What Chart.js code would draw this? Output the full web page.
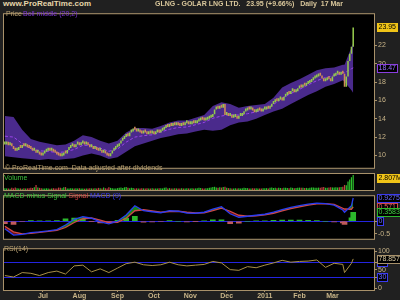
<!DOCTYPE html>
<html>
<head>
<meta charset="utf-8">
<script src="https://cdn.jsdelivr.net/npm/chart.js@4"></script>
<style>
  html, body { margin: 0; padding: 0; background: #202020; }
  #wrap { position: relative; width: 400px; height: 300px; overflow: hidden; }
  canvas { position: absolute; left: 0; }
  .t { position: absolute; white-space: pre; font-family: "Liberation Sans", Arial, sans-serif; font-size: 7px; line-height: 8px; }
</style>
</head>
<body>
<div id="wrap">
  <canvas id="price" width="400" height="164" style="top:9px"></canvas>
  <canvas id="volume" width="400" height="18" style="top:173px"></canvas>
  <canvas id="macd" width="400" height="53" style="top:191px"></canvas>
  <canvas id="rsi" width="400" height="56" style="top:244px"></canvas>

  <div class="t" style="left:3px;top:0;font-weight:bold;font-size:8px;color:#e6d6aa">www.ProRealTime.com</div>
  <div class="t" style="left:155px;top:0;font-weight:bold;color:#d8c69a">GLNG - GOLAR LNG LTD.   23.95 (+9.66%)   Daily  17 Mar</div>
  <div class="t" style="left:6px;top:10px;color:#b8a070">Price</div>
  <div class="t" style="left:23px;top:10px;color:#7a34d4">Boll middle (20,2)</div>
  <div class="t" style="left:5px;top:164px;color:#b8a070">© ProRealTime.com  Data adjusted after dividends</div>
  <div class="t" style="left:4px;top:174px;color:#3cc03c">Volume</div>
  <div class="t" style="left:4px;top:192px"><span style="color:#3cc03c">MACD minus Signal</span> <span style="color:#d04848">Signal</span> <span style="color:#3a3af0">MACD (9)</span></div>
  <div class="t" style="left:4px;top:245px;color:#b8a070">RSI(14)</div>
</div>
<script>
// daily closes, 1 Jun 2010 .. 17 Mar 2011 (index = trading day)
const closes = [
  11.2, 11.5, 11.1, 11.3, 11.0, 10.7, 10.5, 10.6, 10.9, 10.8,
  11.1, 11.0, 11.2, 10.9, 10.8, 10.7, 10.5, 10.6, 10.3, 10.4,
  10.1, 10.0, 10.2, 10.4, 10.5, 10.7, 10.5, 10.6, 10.4, 10.3,
  10.1, 10.0, 9.9, 10.0, 10.3, 10.2, 10.6, 10.8, 11.0, 11.1,
  10.9, 11.2, 11.3, 11.1, 11.3, 11.5, 11.2, 11.4, 11.1, 10.9,
  10.9, 10.7, 10.8, 10.6, 10.5, 10.6, 10.3, 10.4, 10.2, 10.0,
  9.9, 10.2, 10.5, 10.7, 10.9, 11.0, 11.3, 11.6, 11.8, 12.0,
  12.2, 12.1, 12.5, 12.6, 12.9, 12.8, 12.6, 12.7, 12.5, 12.4,
  12.6, 12.5, 12.3, 12.6, 12.4, 12.5, 12.3, 12.5, 12.6, 12.5,
  12.7, 12.8, 13.0, 13.2, 13.1, 13.3, 13.2, 13.4, 13.3, 13.5,
  13.3, 13.2, 13.4, 13.3, 13.5, 13.6, 13.4, 13.4, 13.6, 13.5,
  13.5, 13.7, 13.8, 14.0, 13.9, 13.8, 13.9, 14.0, 14.1, 14.2,
  14.5, 15.0, 15.2, 15.1, 15.3, 15.2, 15.6, 14.4, 14.5, 14.3,
  14.3, 14.1, 14.2, 14.2, 14.0, 14.3, 14.3, 14.5, 14.8, 14.9,
  15.1, 15.0, 15.0, 14.9, 14.7, 14.8, 15.0, 14.9, 14.8, 15.0,
  15.0, 15.2, 15.1, 15.3, 15.6, 15.8, 16.0, 15.9, 16.1, 16.2,
  16.0, 16.4, 16.6, 16.8, 16.7, 17.0, 17.2, 16.9, 17.0, 17.3,
  17.5, 17.4, 17.7, 17.6, 17.8, 17.9, 18.0, 18.2, 18.4, 18.5,
  18.6, 18.8, 18.7, 18.4, 18.1, 18.2, 18.4, 18.3, 18.1, 18.6,
  18.7, 18.9, 19.0, 18.8, 19.1, 18.9, 17.5, 18.6, 20.3, 21.1,
  21.84, 23.95
];
// daily volume, millions
const volumes = [
  0.35, 0.30, 0.28, 0.25, 0.40, 0.30, 0.45, 0.35, 0.28, 0.30,
  0.25, 0.32, 0.28, 0.30, 0.35, 0.40, 0.38, 0.50, 0.95, 0.45,
  0.40, 0.35, 0.30, 0.28, 0.32, 0.30, 0.25, 0.30, 0.35, 0.28,
  0.30, 0.45, 0.40, 0.35, 0.50, 0.55, 0.30, 0.28, 0.35, 0.30,
  0.28, 0.32, 0.30, 0.35, 0.28, 0.30, 0.25, 0.30, 0.28, 0.32,
  0.30, 0.28, 0.35, 0.30, 0.40, 0.32, 0.30, 0.45, 0.35, 0.30,
  0.50, 0.40, 0.35, 0.30, 0.28, 0.35, 0.40, 0.45, 0.38, 0.50,
  0.55, 0.40, 0.35, 0.42, 0.38, 0.30, 0.32, 0.28, 0.30, 0.35,
  0.30, 0.28, 0.32, 0.30, 0.28, 0.35, 0.30, 0.28, 0.30, 0.32,
  0.35, 0.30, 0.40, 0.45, 0.30, 0.35, 0.28, 0.30, 0.32, 0.30,
  0.28, 0.30, 0.35, 0.30, 0.28, 0.32, 0.30, 0.28, 0.35, 0.30,
  0.30, 0.35, 0.40, 0.38, 0.30, 0.28, 0.32, 0.35, 0.40, 0.45,
  0.55, 0.60, 0.45, 0.40, 0.50, 0.45, 0.55, 0.60, 0.40, 0.35,
  0.32, 0.30, 0.28, 0.35, 0.30, 0.32, 0.28, 0.35, 0.40, 0.38,
  0.35, 0.30, 0.28, 0.32, 0.30, 0.35, 0.30, 0.28, 0.30, 0.35,
  0.32, 0.35, 0.30, 0.40, 0.45, 0.38, 0.42, 0.35, 0.40, 0.38,
  0.35, 0.40, 0.42, 0.38, 0.35, 0.45, 0.40, 0.35, 0.38, 0.42,
  0.45, 0.40, 0.42, 0.38, 0.40, 0.35, 0.42, 0.45, 0.48, 0.40,
  0.42, 0.45, 0.40, 0.50, 0.55, 0.42, 0.40, 0.45, 0.50, 0.48,
  0.45, 0.50, 0.48, 0.52, 0.55, 0.60, 0.95, 0.90, 1.60, 1.95,
  2.40, 2.807
];

// indicator readings, taken about once a week
const sampleDays = [0, 5, 10, 15, 20, 25, 30, 35, 40, 45, 50, 55, 60, 65, 70, 75, 80, 85, 90, 95,
  100, 105, 110, 115, 120, 125, 130, 135, 140, 145, 150, 155, 160, 165, 170, 175, 180, 185, 190, 195, 196, 200, 201];
const bollUpper = [14.3, 14.2, 12.8, 11.8, 11.5, 11.3, 11.1, 11.2, 11.6, 12.2, 12.0, 11.6, 11.3, 11.6, 12.5, 13.0, 13.0, 12.9, 13.2, 13.6,
  13.8, 13.8, 14.1, 14.4, 15.4, 15.8, 15.6, 15.2, 15.4, 15.5, 15.6, 16.3, 17.4, 17.9, 18.3, 18.8, 19.3, 19.5, 19.6, 19.9, 19.9, 21.8, 22.3];
const bollLower = [9.9, 9.8, 9.7, 9.6, 9.5, 9.6, 9.5, 9.6, 9.7, 10.0, 10.2, 10.0, 9.6, 9.8, 10.4, 11.0, 11.3, 11.6, 11.9, 12.1,
  12.3, 12.4, 12.6, 12.8, 12.7, 12.8, 13.3, 13.6, 13.7, 14.0, 14.4, 14.8, 15.1, 15.6, 16.1, 16.6, 17.0, 17.5, 17.8, 18.2, 18.0, 17.1, 16.8];
const bollMiddle = [12.1, 12.0, 11.3, 10.7, 10.5, 10.45, 10.3, 10.4, 10.65, 11.1, 11.1, 10.8, 10.45, 10.7, 11.45, 12.0, 12.15, 12.25, 12.55, 12.85,
  13.05, 13.1, 13.35, 13.6, 14.05, 14.3, 14.45, 14.4, 14.55, 14.75, 15.0, 15.55, 16.25, 16.75, 17.2, 17.7, 18.15, 18.5, 18.7, 19.05, 19.0, 19.45, 19.55];
const macdLine = [-0.3, -0.55, -0.52, -0.45, -0.42, -0.38, -0.33, -0.15, 0.08, 0.18, 0.12, -0.02, -0.1, 0.0, 0.25, 0.62, 0.42, 0.38, 0.34, 0.42,
  0.40, 0.33, 0.32, 0.36, 0.48, 0.58, 0.30, 0.16, 0.20, 0.24, 0.28, 0.36, 0.46, 0.55, 0.62, 0.68, 0.72, 0.70, 0.64, 0.45, 0.36, 0.62, 0.9275];
const signalLine = [-0.2, -0.42, -0.5, -0.48, -0.44, -0.4, -0.36, -0.25, -0.05, 0.1, 0.13, 0.05, -0.05, -0.04, 0.12, 0.42, 0.46, 0.41, 0.36, 0.39,
  0.40, 0.36, 0.33, 0.34, 0.42, 0.52, 0.40, 0.24, 0.20, 0.22, 0.26, 0.32, 0.41, 0.50, 0.57, 0.64, 0.69, 0.70, 0.67, 0.52, 0.49, 0.48, 0.571];
const rsiLine = [34, 30, 42, 40, 34, 42, 46, 38, 60, 62, 44, 52, 42, 54, 66, 70, 63, 61, 63, 70,
  63, 60, 62, 64, 72, 68, 50, 48, 58, 55, 62, 68, 75, 70, 72, 73, 76, 56, 67, 64, 42, 67, 78.857];

// axes
const monthDays = [22, 43, 65, 86, 107, 128, 150, 170, 189];
const monthLabels = ['Jul', 'Aug', 'Sep', 'Oct', 'Nov', 'Dec', '2011', 'Feb', 'Mar'];
const priceTicks = [10, 12, 14, 16, 18, 20, 22];
const macdTicks = [-0.5, 0];
const rsiTicks = [0, 30, 50, 70, 100];

const TAN = '#a8916a';
const TXT = '#c8b488';
const FONT = 'Liberation Sans';
const X_MIN = -0.5, X_MAX = 213;

const pts = (vals) => sampleDays.map((d, i) => ({ x: d, y: vals[i] }));
const up = closes.map((c, i) => i === 0 || c >= closes[i - 1]);

// black panel with a tan frame, plus the value boxes on the right axis
const panel = {
  id: 'panel',
  beforeDraw(chart) {
    const { ctx, chartArea: a } = chart;
    ctx.save();
    ctx.fillStyle = '#000';
    ctx.fillRect(a.left, a.top, a.right - a.left, a.bottom - a.top);
    ctx.restore();
  },
  afterDraw(chart, args, opts) {
    const { ctx, chartArea: a } = chart;
    ctx.save();
    ctx.strokeStyle = TAN;
    ctx.lineWidth = 1;
    ctx.strokeRect(a.left - 0.5, a.top - 0.5, a.right - a.left + 1, a.bottom - a.top + 1);
    ctx.font = '7px "' + FONT + '"';
    ctx.textBaseline = 'middle';
    ctx.textAlign = 'left';
    (opts.boxes || []).forEach(b => {
      let py = Math.round(chart.scales.y.getPixelForValue(b.value));
      py = Math.min(Math.max(py, 5), chart.height - 5);
      const w = Math.ceil(ctx.measureText(b.text).width) + 3;
      const x = a.right + 3;
      ctx.fillStyle = b.bg;
      ctx.fillRect(x, py - 4, w, 9);
      if (b.border) {
        ctx.strokeStyle = b.border;
        ctx.strokeRect(x + 0.5, py - 3.5, w - 1, 8);
      }
      ctx.fillStyle = b.fg;
      ctx.fillText(b.text, x + 1.5, py + 0.5);
    });
    ctx.restore();
  }
};

function hiddenX() {
  return { type: 'linear', min: X_MIN, max: X_MAX, offset: false, display: false };
}

function rightY(min, max, ticks, extra) {
  return Object.assign({
    position: 'right', min: min, max: max,
    afterFit: s => { s.width = 26; },
    afterBuildTicks: s => { s.ticks = ticks.map(v => ({ value: v })); },
    border: { color: TAN },
    grid: { drawOnChartArea: false, tickLength: 3, color: TAN },
    ticks: { color: TXT, font: { family: FONT, size: 7 }, padding: 1, autoSkip: false }
  }, extra || {});
}

const base = (scales, boxes) => ({
  responsive: false,
  animation: false,
  layout: { padding: { left: 4, right: 0, top: 1, bottom: 1 } },
  plugins: { legend: { display: false }, tooltip: { enabled: false },
    filler: { drawTime: 'beforeDatasetsDraw' }, panel: { boxes: boxes } },
  scales: scales
});

// price: candle bodies + Bollinger band
new Chart(document.getElementById('price'), {
  type: 'bar',
  data: {
    datasets: [
      {
        data: closes.map((c, i) => ({ x: i, y: [i ? closes[i - 1] : c, c] })),
        backgroundColor: up.map(u => u ? '#94c84c' : '#cf8c56'),
        barPercentage: 1, categoryPercentage: 0.9, minBarLength: 3, order: 0
      },
      { type: 'line', data: pts(bollUpper), borderWidth: 0, pointRadius: 0, fill: false, order: 3 },
      { type: 'line', data: pts(bollLower), borderWidth: 0, pointRadius: 0, fill: '-1',
        backgroundColor: '#4a2a8c', order: 2 },
      { type: 'line', data: pts(bollMiddle), borderColor: '#9a44e8', borderWidth: 1,
        borderDash: [3, 2], pointRadius: 0, fill: false, order: 1 }
    ]
  },
  options: base({ x: hiddenX(), y: rightY(8.65, 25.4, priceTicks) }, [
    { value: 23.95, text: '23.95', bg: '#f0c418', fg: '#000' },
    { value: 19.55, text: '18.47', bg: '#000', border: '#8a3ee0', fg: '#9a70ff' }
  ]),
  plugins: [panel]
});

// volume
new Chart(document.getElementById('volume'), {
  type: 'bar',
  data: {
    datasets: [{
      data: volumes.map((v, i) => ({ x: i, y: v })),
      backgroundColor: up.map(u => u ? '#2cc02c' : '#c04040'),
      barPercentage: 1, categoryPercentage: 0.7
    }]
  },
  options: base({ x: hiddenX(), y: rightY(0, 3.0, [], { ticks: { display: false }, grid: { display: false } }) }, [
    { value: 2.807, text: '2.807M', bg: '#f0c418', fg: '#000' }
  ]),
  plugins: [panel]
});

// MACD
const hist = macdLine.map((m, i) => m - signalLine[i]);
new Chart(document.getElementById('macd'), {
  type: 'bar',
  data: {
    datasets: [
      { type: 'line', data: pts(macdLine), borderColor: '#2a3cf0', borderWidth: 1.3, pointRadius: 0,
        fill: { target: 1, above: 'rgba(20,150,20,0.9)', below: 'rgba(120,20,20,0.9)' }, order: 0 },
      { type: 'line', data: pts(signalLine), borderColor: '#d04848', borderWidth: 1.3, pointRadius: 0, fill: false, order: 1 },
      { data: sampleDays.map((d, i) => ({ x: d, y: hist[i] })),
        backgroundColor: hist.map(h => h >= 0 ? '#2cb82c' : '#c05a5a'), barThickness: 5, order: 2 }
    ]
  },
  options: base({ x: hiddenX(), y: rightY(-0.7, 1.0, macdTicks, {
    grid: { drawOnChartArea: true, tickLength: 3, tickColor: TAN,
      color: c => c.tick && c.tick.value === 0 ? '#2424e0' : 'transparent' },
    ticks: { color: TXT, font: { family: FONT, size: 7 }, padding: 1, autoSkip: false,
      callback: v => v === 0 ? '' : v }
  }) }, [
    { value: 0.9275, text: '0.9275', bg: '#000', border: '#3a3af0', fg: '#6a6aff' },
    { value: 0.571, text: '0.571', bg: '#000', border: '#d04848', fg: '#e06060' },
    { value: 0.3583, text: '0.3583', bg: '#000', border: '#2cb82c', fg: '#40d040' },
    { value: 0, text: '0', bg: '#000', border: '#3a3af0', fg: '#6a6aff' }
  ]),
  plugins: [panel]
});

// RSI with the month axis
const rsiOpts = base({
  x: {
    type: 'linear', min: X_MIN, max: X_MAX, offset: false, position: 'bottom',
    afterBuildTicks: s => { s.ticks = monthDays.map(v => ({ value: v })); },
    afterFit: s => { s.height = 10; },
    border: { display: false },
    grid: { drawOnChartArea: false, tickLength: 2, color: TAN },
    ticks: { color: TXT, font: { family: FONT, size: 7, weight: 'bold' }, padding: 0, autoSkip: false,
      maxRotation: 0, callback: (v, i) => monthLabels[i] }
  },
  y: rightY(-5, 105, rsiTicks, {
    grid: { drawOnChartArea: true, tickLength: 3, tickColor: TAN,
      color: c => c.tick && (c.tick.value === 30 || c.tick.value === 70) ? '#2424e0' : 'transparent' },
    ticks: { color: TXT, font: { family: FONT, size: 7 }, padding: 1, autoSkip: false,
      callback: v => (v === 30 || v === 70) ? '' : v }
  })
}, [
  { value: 70, text: '70', bg: '#000', border: '#3a3af0', fg: '#6a6aff' },
  { value: 30, text: '30', bg: '#000', border: '#3a3af0', fg: '#6a6aff' },
  { value: 78.857, text: '78.857', bg: '#000', border: TAN, fg: '#d8c8a0' }
]);
rsiOpts.layout.padding.bottom = 0;
new Chart(document.getElementById('rsi'), {
  type: 'line',
  data: {
    datasets: [{ data: pts(rsiLine), borderColor: '#a89048', borderWidth: 1, pointRadius: 0, fill: false }]
  },
  options: rsiOpts,
  plugins: [panel]
});
</script>
</body>
</html>
